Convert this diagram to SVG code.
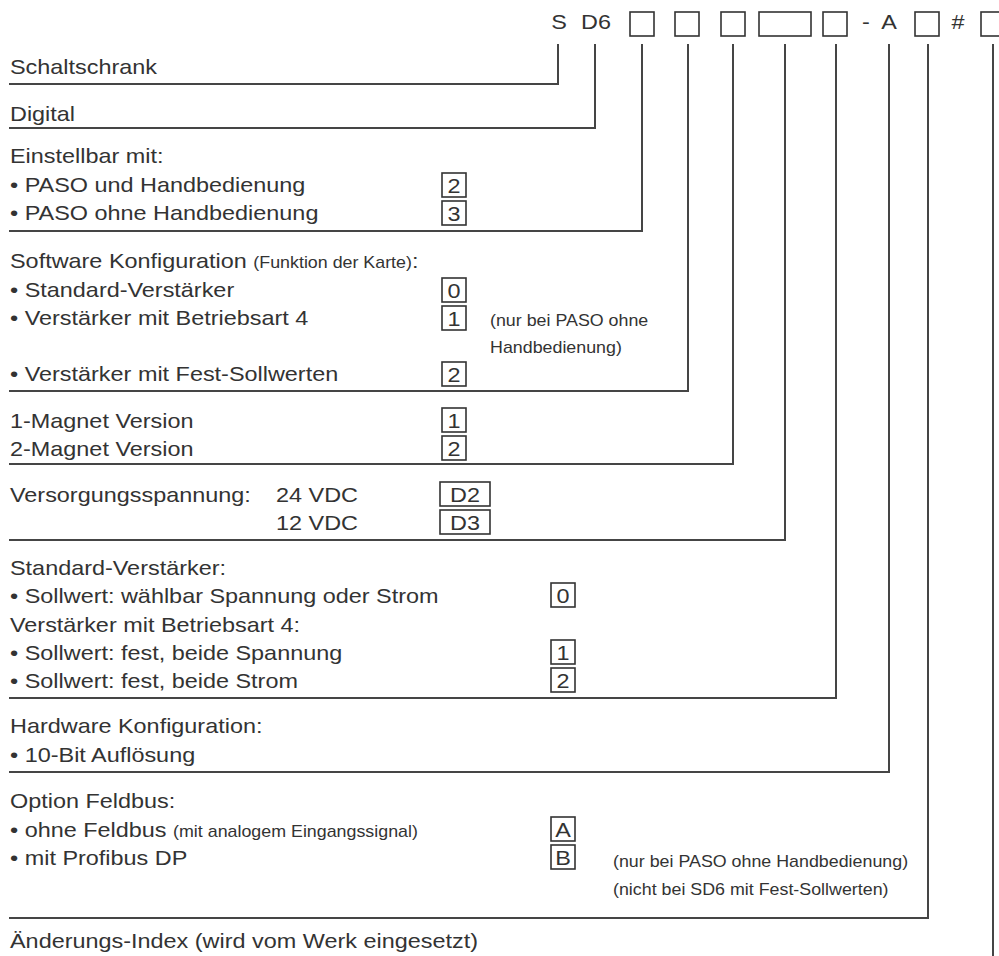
<svg xmlns="http://www.w3.org/2000/svg" width="999" height="956" viewBox="0 0 999 956">
<style>
.t{font-family:"Liberation Sans",Arial,sans-serif;font-size:21px;fill:#333}
.s{font-size:16px}
.c{text-anchor:middle}
.ln{stroke:#454545;stroke-width:2;fill:none}
.bx{stroke:#333;stroke-width:1.6;fill:none}
</style>
<rect width="999" height="956" fill="#fff"/>
<g id="connectors">
<polyline class="ln" points="9,84 558,84 558,44"/>
<polyline class="ln" points="9,128 595,128 595,44"/>
<polyline class="ln" points="9,231 642,231 642,44"/>
<polyline class="ln" points="9,391 688,391 688,44"/>
<polyline class="ln" points="9,464 733,464 733,44"/>
<polyline class="ln" points="9,540 785,540 785,44"/>
<polyline class="ln" points="9,698 836,698 836,44"/>
<polyline class="ln" points="9,772 889,772 889,44"/>
<polyline class="ln" points="9,918 928,918 928,44"/>
<polyline class="ln" points="993,44 993,956"/>
</g>
<g id="code">
<text class="t c" transform="translate(559 29) scale(1.115 1)">S</text>
<text class="t c" transform="translate(596 29) scale(1.115 1)">D6</text>
<rect class="bx" x="630" y="12" width="24" height="24"/>
<rect class="bx" x="675" y="12" width="24" height="24"/>
<rect class="bx" x="721" y="12" width="24" height="24"/>
<rect class="bx" x="759" y="12" width="52" height="24"/>
<rect class="bx" x="823" y="12" width="24" height="24"/>
<text class="t c" transform="translate(866 29) scale(1.115 1)">-</text>
<text class="t c" transform="translate(889 29) scale(1.115 1)">A</text>
<rect class="bx" x="915" y="12" width="24" height="24"/>
<text class="t c" transform="translate(958 29) scale(1.115 1)">#</text>
<rect class="bx" x="981" y="12" width="24" height="24"/>
</g>
<g id="schaltschrank">
<text class="t" transform="translate(10 74) scale(1.115 1)">Schaltschrank</text>
</g>
<g id="digital">
<text class="t" transform="translate(10 121) scale(1.115 1)">Digital</text>
</g>
<g id="einstellbar">
<text class="t" transform="translate(10 163) scale(1.115 1)">Einstellbar mit:</text>
<text class="t" transform="translate(10 192) scale(1.115 1)">• PASO und Handbedienung</text>
<text class="t" transform="translate(10 220) scale(1.115 1)">• PASO ohne Handbedienung</text>
<rect class="bx" x="442" y="173" width="24" height="24"/>
<text class="t c" transform="translate(454 192.5) scale(1.115 1)">2</text>
<rect class="bx" x="442" y="201" width="24" height="24"/>
<text class="t c" transform="translate(454 220.5) scale(1.115 1)">3</text>
</g>
<g id="software">
<text class="t" transform="translate(10 268) scale(1.115 1)">Software Konfiguration <tspan class="s">(Funktion der Karte)</tspan>:</text>
<text class="t" transform="translate(10 297) scale(1.115 1)">• Standard-Verstärker</text>
<text class="t" transform="translate(10 325) scale(1.115 1)">• Verstärker mit Betriebsart 4</text>
<text class="t s" transform="translate(490 326) scale(1.115 1)">(nur bei PASO ohne</text>
<text class="t s" transform="translate(490 353) scale(1.115 1)">Handbedienung)</text>
<text class="t" transform="translate(10 381) scale(1.115 1)">• Verstärker mit Fest-Sollwerten</text>
<rect class="bx" x="442" y="278" width="24" height="24"/>
<text class="t c" transform="translate(454 297.5) scale(1.115 1)">0</text>
<rect class="bx" x="442" y="306" width="24" height="24"/>
<text class="t c" transform="translate(454 325.5) scale(1.115 1)">1</text>
<rect class="bx" x="442" y="362" width="24" height="24"/>
<text class="t c" transform="translate(454 381.5) scale(1.115 1)">2</text>
</g>
<g id="magnet">
<text class="t" transform="translate(10 428) scale(1.115 1)">1-Magnet Version</text>
<text class="t" transform="translate(10 456) scale(1.115 1)">2-Magnet Version</text>
<rect class="bx" x="442" y="408" width="24" height="24"/>
<text class="t c" transform="translate(454 427.5) scale(1.115 1)">1</text>
<rect class="bx" x="442" y="436" width="24" height="24"/>
<text class="t c" transform="translate(454 455.5) scale(1.115 1)">2</text>
</g>
<g id="versorgung">
<text class="t" transform="translate(10 502) scale(1.115 1)">Versorgungsspannung:</text>
<text class="t" transform="translate(276 502) scale(1.115 1)">24 VDC</text>
<text class="t" transform="translate(276 530) scale(1.115 1)">12 VDC</text>
<rect class="bx" x="440" y="482" width="50" height="24"/>
<text class="t c" transform="translate(465 501.5) scale(1.115 1)">D2</text>
<rect class="bx" x="440" y="510" width="50" height="24"/>
<text class="t c" transform="translate(465 529.5) scale(1.115 1)">D3</text>
</g>
<g id="sollwert">
<text class="t" transform="translate(10 575) scale(1.115 1)">Standard-Verstärker:</text>
<text class="t" transform="translate(10 603) scale(1.115 1)">• Sollwert: wählbar Spannung oder Strom</text>
<text class="t" transform="translate(10 632) scale(1.115 1)">Verstärker mit Betriebsart 4:</text>
<text class="t" transform="translate(10 660) scale(1.115 1)">• Sollwert: fest, beide Spannung</text>
<text class="t" transform="translate(10 688) scale(1.115 1)">• Sollwert: fest, beide Strom</text>
<rect class="bx" x="551" y="583" width="24" height="24"/>
<text class="t c" transform="translate(563 602.5) scale(1.115 1)">0</text>
<rect class="bx" x="551" y="640" width="24" height="24"/>
<text class="t c" transform="translate(563 659.5) scale(1.115 1)">1</text>
<rect class="bx" x="551" y="668" width="24" height="24"/>
<text class="t c" transform="translate(563 687.5) scale(1.115 1)">2</text>
</g>
<g id="hardware">
<text class="t" transform="translate(10 733) scale(1.115 1)">Hardware Konfiguration:</text>
<text class="t" transform="translate(10 762) scale(1.115 1)">• 10-Bit Auflösung</text>
</g>
<g id="feldbus">
<text class="t" transform="translate(10 808) scale(1.115 1)">Option Feldbus:</text>
<text class="t" transform="translate(10 837) scale(1.115 1)">• ohne Feldbus <tspan class="s">(mit analogem Eingangssignal)</tspan></text>
<text class="t" transform="translate(10 865) scale(1.115 1)">• mit Profibus DP</text>
<rect class="bx" x="551" y="817" width="24" height="24"/>
<text class="t c" transform="translate(563 836.5) scale(1.115 1)">A</text>
<rect class="bx" x="551" y="845" width="24" height="24"/>
<text class="t c" transform="translate(563 864.5) scale(1.115 1)">B</text>
<text class="t s" transform="translate(613 867) scale(1.115 1)">(nur bei PASO ohne Handbedienung)</text>
<text class="t s" transform="translate(613 895) scale(1.115 1)">(nicht bei SD6 mit Fest-Sollwerten)</text>
</g>
<g id="aenderung">
<text class="t" transform="translate(10 948) scale(1.115 1)">Änderungs-Index (wird vom Werk eingesetzt)</text>
</g>
</svg>
